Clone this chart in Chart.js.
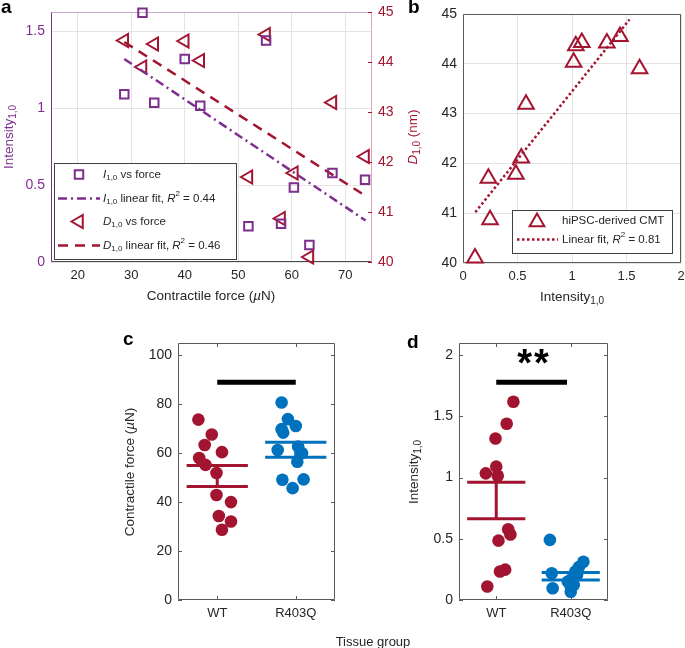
<!DOCTYPE html>
<html>
<head>
<meta charset="utf-8">
<script src="https://cdn.jsdelivr.net/npm/chart.js@4.4.0/dist/chart.umd.min.js"></script>
<style>
  body { margin: 0; background: #fff; }
  #page { position: relative; width: 685px; height: 648px; overflow: hidden; font-family: "Liberation Sans", Arial, sans-serif; color: #262626; }
  canvas { position: absolute; left: 0; top: 0; }
  .lbl { position: absolute; font-weight: bold; font-size: 19px; line-height: 19px; color: #000; }
</style>
</head>
<body>
<div id="page">
  <canvas id="ca" width="685" height="648"></canvas>
  <canvas id="cb" width="685" height="648"></canvas>
  <canvas id="cc" width="685" height="648"></canvas>
  <canvas id="cd" width="685" height="648"></canvas>
  <div class="lbl" style="left:1px;top:-3px">a</div>
  <div class="lbl" style="left:408px;top:-3px">b</div>
  <div class="lbl" style="left:123px;top:329px">c</div>
  <div class="lbl" style="left:407px;top:332px">d</div>
  <div style="position:absolute;left:454px;top:344px;width:160px;text-align:center;font-weight:bold;font-size:38px;line-height:38px;letter-spacing:2px;color:#000">**</div>
  <div style="position:absolute;left:293px;top:635px;width:160px;text-align:center;font-size:13px;line-height:13px">Tissue group</div>
</div>
<script>
const W = 685, H = 648;
const PURPLE = '#7E2F8E', RED = '#A2142F', BLUE = '#0072BD';
const TXT = '#262626', GRID = '#e4e4e4', AXIS = '#5a5a5a';
const FONT = '"Liberation Sans", Arial, sans-serif';

// WT tissues, same order everywhere (force, I1,0, D1,0)
const forceWT = [32.1, 28.7, 34.3, 40.0, 42.9, 55.2, 51.9, 58.0, 60.4, 63.3, 67.6, 73.7];
const intensityWT = [1.62, 1.09, 1.035, 1.32, 1.015, 1.44, 0.233, 0.248, 0.485, 0.11, 0.578, 0.535];
const spacingWT = [43.9, 44.43, 44.36, 44.42, 44.03, 44.55, 41.7, 40.87, 41.78, 40.1, 43.19, 42.11];

// linear fits, end points
const fitIForce = [[28.7, 1.32], [73.8, 0.27]];
const fitDForce = [[28.7, 44.4], [73.1, 41.37]];
const fitDI = [[0.113, 41.02], [1.528, 44.89]];

// R403Q tissues
const forceR = [80.7, 73.9, 71.1, 69.8, 68.4, 61.3, 62.7, 60.0, 56.5, 49.1, 49.3, 45.7];
const intensityR = [0.491, 0.218, 0.096, 0.313, 0.232, 0.178, 0.109, 0.068, 0.205, 0.15, 0.27, 0.123];

// horizontal scatter of the dots in c and d (group 1 = WT, 2 = R403Q)
const jitterC_WT = [1.175, 1.06, 1.02, 1.175, 0.99, 0.85, 0.99, 0.77, 1.06, 0.84, 0.93, 0.76];
const jitterC_R = [1.82, 1.9, 2.0, 1.82, 1.84, 1.77, 2.03, 2.08, 2.02, 1.83, 2.1, 1.96];
const jitterD_WT = [1.23, 1.0, 0.86, 0.99, 1.02, 1.14, 1.05, 1.12, 1.03, 0.88, 1.16, 1.19];
const jitterD_R = [1.72, 1.745, 1.757, 2.17, 2.06, 2.02, 2.0, 2.0, 2.085, 1.96, 2.11, 2.04];

// mean +- SEM per group
const meanForce = [50.7, 61.35], semForce = [4.3, 3.05];
const meanInt = [0.813, 0.194], semInt = [0.149, 0.03];
// significance bars [x1, x2, y]
const sigC = [1, 2, 89];
const sigD = [1, 1.95, 1.78];

const groups = ['WT', 'R403Q'];
const ticksForce = [20, 30, 40, 50, 60, 70];
const ticksIntA = [0, 0.5, 1, 1.5];
const ticksD = [40, 41, 42, 43, 44, 45];
const ticksIntB = [0, 0.5, 1, 1.5, 2];
const ticksForceC = [0, 20, 40, 60, 80, 100];
const ticksIntD = [0, 0.5, 1, 1.5, 2];
const ticksGroup = [1, 2];

const pts = (xs, ys) => xs.map((x, i) => ({ x: x, y: ys[i] }));
const pairs = p => p.map(([x, y]) => ({ x: x, y: y }));

// o.space = width (y) or height (x) kept for the tick labels
function axis(o) {
  const horiz = o.pos === 'bottom';
  return {
    type: 'linear', position: o.pos, min: o.min, max: o.max,
    afterFit: s => {
      if (horiz) s.height = o.space; else s.width = o.space;
      s.paddingLeft = s.paddingRight = s.paddingTop = s.paddingBottom = 0;
    },
    afterBuildTicks: s => { s.ticks = o.ticks.map(v => ({ value: v })); },
    grid: { display: !!o.grid, color: GRID, drawTicks: false, lineWidth: 1 },
    border: { display: false },
    ticks: {
      color: o.color || TXT, font: { family: FONT, size: o.size || 13 },
      padding: 6, maxRotation: 0, autoSkip: false,
      callback: v => o.labels ? o.labels[v - 1] : String(v)
    }
  };
}

function seg(data, color, width, dash, yAxisID) {
  const d = { data: data, showLine: true, pointRadius: 0, borderColor: color, borderWidth: width,
    borderDash: dash || [], borderCapStyle: 'butt', clip: false };
  if (yAxisID) d.yAxisID = yAxisID;
  return d;
}

function dots(data, color) {
  return { data: data, pointStyle: 'circle', pointRadius: 6.3, backgroundColor: color,
    borderWidth: 0, clip: false };
}

function errBars(xc, mean, sem, color) {
  const hw = 0.39;
  return [
    seg([{ x: xc - hw, y: mean + sem }, { x: xc + hw, y: mean + sem }], color, 3),
    seg([{ x: xc - hw, y: mean - sem }, { x: xc + hw, y: mean - sem }], color, 3),
    seg([{ x: xc, y: mean - sem }, { x: xc, y: mean + sem }], color, 3)
  ];
}

function partFont(ctx, f, size) {
  const small = f.includes('s') || f.includes('p');
  ctx.font = (f.includes('i') ? 'italic ' : '') + (small ? Math.round(size * 0.72) : size) + 'px ' + FONT;
}

// text with italics / subscripts / superscripts
function drawRich(ctx, parts, x, y, size, color, rot, align) {
  ctx.save();
  ctx.translate(x, y);
  if (rot) ctx.rotate(rot);
  let w = 0;
  parts.forEach(([t, f = '']) => { partFont(ctx, f, size); w += ctx.measureText(t).width; });
  let cx = align === 'left' ? 0 : -w / 2;
  ctx.fillStyle = color;
  ctx.textBaseline = 'middle';
  ctx.textAlign = 'left';
  parts.forEach(([t, f = '']) => {
    partFont(ctx, f, size);
    const dy = f.includes('s') ? size * 0.32 : f.includes('p') ? -size * 0.38 : 0;
    ctx.fillText(t, cx, dy);
    cx += ctx.measureText(t).width;
  });
  ctx.restore();
}

function box(chart, cols) {
  const { ctx, chartArea: a } = chart;
  const L = Math.round(a.left) + 0.5, R = Math.round(a.right) - 0.5;
  const T = Math.round(a.top) + 0.5, B = Math.round(a.bottom) - 0.5;
  const line = (x1, y1, x2, y2, c) => {
    ctx.beginPath(); ctx.strokeStyle = c; ctx.moveTo(x1, y1); ctx.lineTo(x2, y2); ctx.stroke();
  };
  ctx.save();
  ctx.lineWidth = 1;
  line(L, T, R, T, cols.top);
  line(L, B, R, B, cols.bottom);
  line(L, T, L, B, cols.left);
  line(R, T, R, B, cols.right);
  ctx.restore();
}

function inTicks(chart, sx, sy, color, sides) {
  const { ctx, chartArea: a } = chart;
  ctx.save();
  ctx.strokeStyle = color; ctx.lineWidth = 1; ctx.beginPath();
  if (sy) sy.ticks.forEach(t => {
    const py = Math.round(sy.getPixelForValue(t.value)) + 0.5;
    if (sides.includes('l')) { ctx.moveTo(a.left, py); ctx.lineTo(a.left + 4, py); }
    if (sides.includes('r')) { ctx.moveTo(a.right, py); ctx.lineTo(a.right - 4, py); }
  });
  if (sx) sx.ticks.forEach(t => {
    const px = Math.round(sx.getPixelForValue(t.value)) + 0.5;
    ctx.moveTo(px, a.bottom); ctx.lineTo(px, a.bottom - 4);
    ctx.moveTo(px, a.top); ctx.lineTo(px, a.top + 4);
  });
  ctx.stroke();
  ctx.restore();
}

function marker(ctx, style, r, rot, x, y, color) {
  ctx.save();
  ctx.strokeStyle = color; ctx.fillStyle = 'rgba(0,0,0,0)'; ctx.lineWidth = 2;
  Chart.helpers.drawPoint(ctx, { pointStyle: style, radius: r, rotation: rot, borderWidth: 2 }, x, y);
  ctx.restore();
}

function sample(ctx, x1, x2, y, color, width, dash) {
  ctx.save();
  ctx.strokeStyle = color; ctx.lineWidth = width; ctx.setLineDash(dash); ctx.lineCap = 'butt';
  ctx.beginPath(); ctx.moveTo(x1, y); ctx.lineTo(x2, y); ctx.stroke();
  ctx.restore();
}

function legendBox(ctx, x, y, w, h) {
  ctx.save();
  ctx.fillStyle = '#fff'; ctx.fillRect(x, y, w, h);
  ctx.strokeStyle = '#404040'; ctx.lineWidth = 1; ctx.strokeRect(x + 0.5, y + 0.5, w, h);
  ctx.restore();
}

// pad = [left, top, right, bottom] outside the axes' own label space
function makeChart(id, pad, datasets, scales, before, after) {
  return new Chart(document.getElementById(id), {
    type: 'scatter',
    data: { datasets: datasets },
    options: {
      responsive: false, animation: false, events: [],
      layout: { autoPadding: false, padding: { left: pad[0], top: pad[1], right: pad[2], bottom: pad[3] } },
      scales: scales,
      plugins: { legend: { display: false }, tooltip: { enabled: false } }
    },
    plugins: [{ id: 'extra' + id, beforeDatasetsDraw: before, afterDraw: after }]
  });
}

// ---- a: intensity and spacing vs force  (plot 51..372 x 12..262)
makeChart('ca', [0, 12, 265, 348], [
  { data: pts(forceWT, intensityWT), pointStyle: 'rect', pointRadius: 6, borderColor: PURPLE,
    backgroundColor: 'rgba(0,0,0,0)', borderWidth: 2, clip: false },
  seg(pairs(fitIForce), PURPLE, 2.5, [9, 4, 2, 4]),
  { data: pts(forceWT, spacingWT), yAxisID: 'y2', pointStyle: 'triangle', rotation: -90, pointRadius: 7.5,
    borderColor: RED, backgroundColor: 'rgba(0,0,0,0)', borderWidth: 2, clip: false },
  seg(pairs(fitDForce), RED, 2.5, [10, 7], 'y2')
], {
  x: axis({ pos: 'bottom', min: 15, max: 75, ticks: ticksForce, grid: true, space: 38 }),
  y: axis({ pos: 'left', min: 0, max: 1.625, ticks: ticksIntA, grid: true, color: PURPLE, size: 14, space: 51 }),
  y2: axis({ pos: 'right', min: 40, max: 45, ticks: ticksD, color: RED, size: 14, space: 48 })
}, chart => {
  box(chart, { top: '#c6a9cd', bottom: '#4a4a4a', left: PURPLE, right: '#e2a3ae' });
  inTicks(chart, null, chart.scales.y2, RED, 'r');
}, chart => {
  const ctx = chart.ctx;
  drawRich(ctx, [['Intensity'], ['1,0', 's']], 9, 137, 13.5, PURPLE, -Math.PI / 2);
  drawRich(ctx, [['D', 'i'], ['1,0', 's'], [' (nm)']], 413, 137, 13.5, RED, -Math.PI / 2);
  drawRich(ctx, [['Contractile force ('], ['\u00b5', 'i'], ['N)']], 211, 296, 13.5, TXT);
  legendBox(ctx, 54, 163, 182, 96);
  marker(ctx, 'rect', 6, 0, 79, 174.5, PURPLE);
  drawRich(ctx, [['I', 'i'], ['1,0', 's'], [' vs force']], 103, 174.5, 11.5, TXT, 0, 'left');
  sample(ctx, 58, 100, 198.5, PURPLE, 2.5, [9, 4, 2, 4]);
  drawRich(ctx, [['I', 'i'], ['1,0', 's'], [' linear fit, '], ['R', 'i'], ['2', 'p'], [' = 0.44']], 103, 198.5, 11.5, TXT, 0, 'left');
  marker(ctx, 'triangle', 7.5, -90, 79, 221.5, RED);
  drawRich(ctx, [['D', 'i'], ['1,0', 's'], [' vs force']], 103, 221.5, 11.5, TXT, 0, 'left');
  sample(ctx, 58, 100, 245.5, RED, 2.5, [10, 7]);
  drawRich(ctx, [['D', 'i'], ['1,0', 's'], [' linear fit, '], ['R', 'i'], ['2', 'p'], [' = 0.46']], 103, 245.5, 11.5, TXT, 0, 'left');
});

// ---- b: spacing vs intensity  (plot 463..681 x 14..263)
makeChart('cb', [420, 14, 4, 350], [
  { data: pts(intensityWT, spacingWT), pointStyle: 'triangle', pointRadius: 9, borderColor: RED,
    backgroundColor: 'rgba(0,0,0,0)', borderWidth: 2, clip: false },
  seg(pairs(fitDI), RED, 2.5, [2.5, 2.5])
], {
  x: axis({ pos: 'bottom', min: 0, max: 2, ticks: ticksIntB, grid: true, space: 35 }),
  y: axis({ pos: 'left', min: 40, max: 45, ticks: ticksD, grid: true, size: 14, space: 43 })
}, chart => {
  box(chart, { top: AXIS, bottom: AXIS, left: AXIS, right: AXIS });
}, chart => {
  const ctx = chart.ctx;
  drawRich(ctx, [['Intensity'], ['1,0', 's']], 572, 297, 13.5, TXT);
  legendBox(ctx, 512, 210, 160, 43);
  marker(ctx, 'triangle', 8.5, 0, 537, 222, RED);
  drawRich(ctx, [['hiPSC-derived CMT']], 562, 221, 11.5, TXT, 0, 'left');
  sample(ctx, 517, 558, 239.5, RED, 2.5, [2.5, 2.5]);
  drawRich(ctx, [['Linear fit, '], ['R', 'i'], ['2', 'p'], [' = 0.81']], 562, 239.5, 11.5, TXT, 0, 'left');
});

// ---- c: contractile force per group  (plot 178..335 x 343..600)
makeChart('cc', [138, 343, 350, 18], [
  seg([{ x: sigC[0], y: sigC[2] }, { x: sigC[1], y: sigC[2] }], '#000', 5),
  ...errBars(1, meanForce[0], semForce[0], RED),
  ...errBars(2, meanForce[1], semForce[1], BLUE),
  dots(pts(jitterC_WT, forceWT), RED),
  dots(pts(jitterC_R, forceR), BLUE)
], {
  x: axis({ pos: 'bottom', min: 0.5, max: 2.5, ticks: ticksGroup, labels: groups, space: 30 }),
  y: axis({ pos: 'left', min: 0, max: 105, ticks: ticksForceC, size: 14, space: 40 })
}, chart => {
  box(chart, { top: AXIS, bottom: AXIS, left: AXIS, right: AXIS });
  inTicks(chart, chart.scales.x, chart.scales.y, AXIS, 'lr');
}, chart => {
  drawRich(chart.ctx, [['Contractile force ('], ['\u00b5', 'i'], ['N)']], 130, 472, 13.5, TXT, -Math.PI / 2);
});

// ---- d: intensity per group  (plot 459..608 x 343..600)
makeChart('cd', [422, 343, 77, 18], [
  seg([{ x: sigD[0], y: sigD[2] }, { x: sigD[1], y: sigD[2] }], '#000', 5),
  ...errBars(1, meanInt[0], semInt[0], RED),
  ...errBars(2, meanInt[1], semInt[1], BLUE),
  dots(pts(jitterD_WT, intensityWT), RED),
  dots(pts(jitterD_R, intensityR), BLUE)
], {
  x: axis({ pos: 'bottom', min: 0.5, max: 2.5, ticks: ticksGroup, labels: groups, space: 30 }),
  y: axis({ pos: 'left', min: 0, max: 2.1, ticks: ticksIntD, size: 14, space: 37 })
}, chart => {
  box(chart, { top: AXIS, bottom: AXIS, left: AXIS, right: AXIS });
  inTicks(chart, chart.scales.x, chart.scales.y, AXIS, 'lr');
}, chart => {
  drawRich(chart.ctx, [['Intensity'], ['1,0', 's']], 414, 472, 13.5, TXT, -Math.PI / 2);
});
</script>
</body>
</html>
